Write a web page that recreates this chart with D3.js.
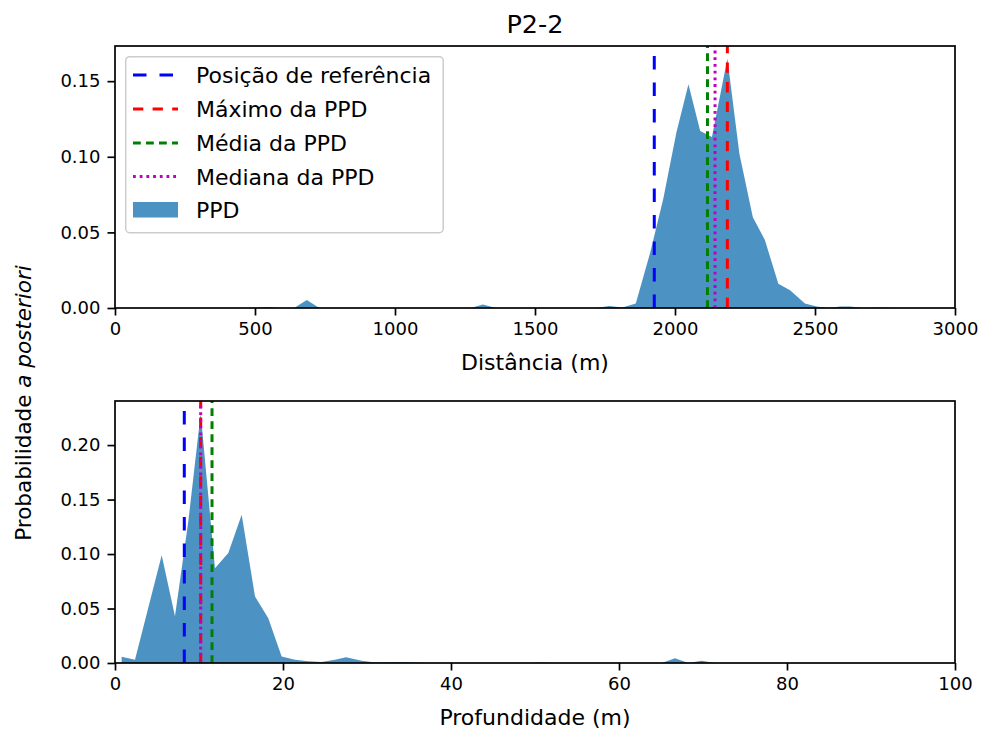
<!DOCTYPE html>
<html>
<head>
<meta charset="utf-8">
<script src="https://cdn.jsdelivr.net/npm/d3@7"></script>
<style>
  html, body { margin: 0; padding: 0; background: #ffffff; }
  svg { display: block; }
  text { font-family: "DejaVu Sans", sans-serif; fill: #000; }
</style>
</head>
<body>
<div id="chart"></div>
<script>
// ---------------- data ----------------
const chartTitle = "P2-2";

// top panel: distance (m) vs posterior probability
const distX = [24, 300, 500, 543, 590, 640, 685, 730, 1000, 1270, 1314, 1360, 1720, 1765, 1812, 1860, 1912, 1958, 2005, 2048, 2090, 2132, 2187, 2230, 2278, 2321, 2369, 2411, 2464, 2506, 2550, 2590, 2625, 2670, 2730, 2775, 2976];
const distP = [0, 0, 0, 0.0007, 0, 0, 0.0053, 0, 0, 0, 0.0023, 0, 0, 0.0013, 0.0004, 0.003, 0.037, 0.072, 0.116, 0.148, 0.117, 0.113, 0.165, 0.102, 0.060, 0.045, 0.016, 0.0118, 0.003, 0.001, 0, 0.001, 0.001, 0, 0.0004, 0, 0];

// bottom panel: depth (m) vs posterior probability
const depthX = [0.79, 2.38, 3.97, 5.56, 7.14, 8.73, 10.2, 11.9, 13.49, 15.08, 16.67, 18.25, 19.84, 21.43, 23.02, 24.6, 26.19, 27.5, 29.37, 30.95, 32.54, 34.13, 35.71, 37.3, 49.21, 50.8, 52.38, 65.08, 66.67, 68.25, 69.84, 71.43, 99.21];
const depthP = [0.0058, 0.003, 0.051, 0.099, 0.043, 0.13, 0.229, 0.087, 0.101, 0.136, 0.061, 0.041, 0.006, 0.003, 0.0015, 0.001, 0.003, 0.0052, 0.002, 0.0005, 0.0008, 0.001, 0.0005, 0, 0, 0.0005, 0, 0, 0.0043, 0, 0.002, 0, 0];

// reference / max / mean / median markers
const markerNames = ["Posição de referência", "Máximo da PPD", "Média da PPD", "Mediana da PPD"];
const distMarkers = [1926, 2187, 2116, 2143];
const depthMarkers = [8.25, 10.2, 11.55, 10.2];
const ppdLabel = "PPD";

// ticks
const distTicks = [0, 500, 1000, 1500, 2000, 2500, 3000];
const distYTicks = [0.00, 0.05, 0.10, 0.15];
const depthTicks = [0, 20, 40, 60, 80, 100];
const depthYTicks = [0.00, 0.05, 0.10, 0.15, 0.20];

const xLabelTop = "Distância (m)";
const xLabelBottom = "Profundidade (m)";

// ---------------- styles ----------------
const W = 987, H = 736;
const markerStyles = [
  { color: "#0000ff", dash: "13.5,13" },
  { color: "#ff0000", dash: "10.3,9.3" },
  { color: "#008000", dash: "7.8,5.2" },
  { color: "#bf00bf", dash: "2.8,3.9" }
];
const fillColor = "#1f77b4", fillOpacity = 0.8;
const tickFont = 18, labelFont = 22;

const svg = d3.select("#chart").append("svg")
  .attr("width", W).attr("height", H);
svg.append("rect").attr("width", W).attr("height", H).attr("fill", "#fff");

function panel(opts) {
  const { left, right, top, bottom, xs, ps, xDomain, xTicks, yTicks, markers, xLabel, xLabelY, xFmt } = opts;
  const x = d3.scaleLinear().domain(xDomain).range([left, right]);
  const y = d3.scaleLinear().domain([0, d3.max(ps) * 1.05]).range([bottom, top]);
  const g = svg.append("g");

  const clipId = "clip" + Math.round(top);
  g.append("clipPath").attr("id", clipId).append("rect")
    .attr("x", left).attr("y", top).attr("width", right - left).attr("height", bottom - top);

  const pts = xs.map((v, i) => [v, ps[i]]);
  const area = d3.area().x(d => x(d[0])).y0(y(0)).y1(d => y(d[1]));
  g.append("path").datum(pts).attr("d", area)
    .attr("fill", fillColor).attr("fill-opacity", fillOpacity)
    .attr("clip-path", `url(#${clipId})`);

  markers.forEach((m, i) => {
    g.append("line")
      .attr("x1", x(m)).attr("x2", x(m))
      .attr("y1", bottom).attr("y2", top)
      .attr("stroke", markerStyles[i].color)
      .attr("stroke-width", 3)
      .attr("stroke-dasharray", markerStyles[i].dash);
  });

  // axes
  const xAxis = d3.axisBottom(x).tickValues(xTicks).tickFormat(xFmt)
    .tickSize(7.5).tickPadding(7).tickSizeOuter(0);
  const yAxis = d3.axisLeft(y).tickValues(yTicks).tickFormat(d3.format(".2f"))
    .tickSize(7.5).tickPadding(7).tickSizeOuter(0);
  const gx = g.append("g").attr("transform", `translate(0,${bottom})`).call(xAxis);
  const gy = g.append("g").attr("transform", `translate(${left},0)`).call(yAxis);
  [gx, gy].forEach(a => {
    a.select(".domain").remove();
    a.selectAll(".tick line").attr("stroke", "#000").attr("stroke-width", 1.7);
    a.selectAll(".tick text").style("font-size", tickFont + "px")
      .style("font-family", "DejaVu Sans").attr("fill", "#000");
  });

  g.append("rect").attr("x", left).attr("y", top)
    .attr("width", right - left).attr("height", bottom - top)
    .attr("fill", "none").attr("stroke", "#000").attr("stroke-width", 1.7);

  g.append("text").attr("x", (left + right) / 2).attr("y", xLabelY)
    .attr("text-anchor", "middle").style("font-size", labelFont + "px")
    .text(xLabel);
  return { x, y };
}

panel({ left: 115, right: 955, top: 46, bottom: 308, xs: distX, ps: distP,
  xDomain: [0, 3000], xTicks: distTicks, yTicks: distYTicks, markers: distMarkers,
  xLabel: xLabelTop, xLabelY: 370, xFmt: d3.format("d") });

panel({ left: 115, right: 955, top: 401, bottom: 663, xs: depthX, ps: depthP,
  xDomain: [0, 100], xTicks: depthTicks, yTicks: depthYTicks, markers: depthMarkers,
  xLabel: xLabelBottom, xLabelY: 725, xFmt: d3.format("d") });

// title
svg.append("text").attr("x", 535).attr("y", 33).attr("text-anchor", "middle")
  .style("font-size", "25.5px").text(chartTitle);

// y label (shared)
const yl = svg.append("text")
  .attr("transform", "translate(31,403) rotate(-90)")
  .attr("text-anchor", "middle").style("font-size", "21.5px");
yl.append("tspan").text("Probabilidade ");
yl.append("tspan").style("font-style", "italic").text("a posteriori");

// legend
const lg = svg.append("g");
lg.append("rect").attr("x", 125.7).attr("y", 56.7).attr("width", 317.5).attr("height", 176)
  .attr("rx", 4).attr("fill", "#fff").attr("fill-opacity", 0.8)
  .attr("stroke", "#cccccc").attr("stroke-width", 1.5);
const rowY = [75, 109, 143, 176.5, 210];
markerNames.forEach((name, i) => {
  lg.append("line").attr("x1", 133).attr("x2", 178)
    .attr("y1", rowY[i]).attr("y2", rowY[i])
    .attr("stroke", markerStyles[i].color).attr("stroke-width", 3)
    .attr("stroke-dasharray", markerStyles[i].dash);
  lg.append("text").attr("x", 196).attr("y", rowY[i] + 8)
    .style("font-size", labelFont + "px").text(name);
});
lg.append("rect").attr("x", 133).attr("y", 202).attr("width", 45).attr("height", 15.5)
  .attr("fill", fillColor).attr("fill-opacity", fillOpacity);
lg.append("text").attr("x", 196).attr("y", rowY[4] + 8)
  .style("font-size", labelFont + "px").text(ppdLabel);
</script>
</body>
</html>
